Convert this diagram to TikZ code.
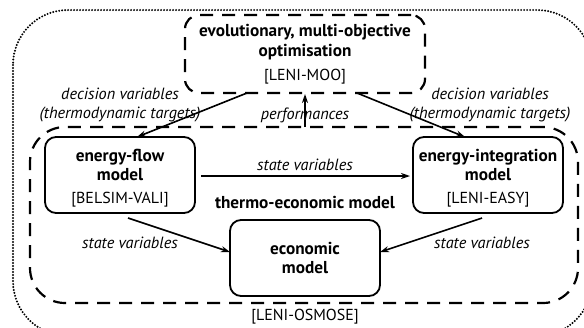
\documentclass[tikz,border=0pt]{standalone}
\usepackage{fontspec}
\setmainfont{PT Sans}
\usetikzlibrary{arrows.meta}
\begin{document}
\begin{tikzpicture}[x=1bp,y=-1bp,
  model/.style={draw, line width=1.8bp, rounded corners=11bp, minimum width=150bp, minimum height=76bp, inner sep=0pt},
  title/.style={font=\fontsize{17.3}{19.5}\selectfont\bfseries, align=center, inner sep=0pt},
  tag/.style={font=\fontsize{16}{19}\selectfont, inner sep=0pt},
  lab/.style={font=\fontsize{16.3}{20}\selectfont\itshape, align=center, inner sep=0pt},
  conn/.style={line width=1.6bp, -{Stealth[length=9bp,width=6bp]}},
  dashbox/.style={draw, line width=2.2bp, dash pattern=on 13bp off 9bp},
]
\useasboundingbox (0,0) rectangle (584,327);
\begin{scope}
\clip (0,0) rectangle (584,327);
\draw[line width=2.2bp, line cap=round, dash pattern=on 0bp off 3bp, rounded corners=55bp] (13,10) rectangle (592,336);
\end{scope}
% MOO box
\node[dashbox, rounded corners=14bp, minimum width=240bp, minimum height=78bp] (moo) at (305,54) {};
\node[title] (mootitle) at (305,42) {evolutionary, multi-objective\\optimisation};
\node[tag] (mootag) at (305,77) {[LENI-MOO]};
% thermo-economic box
\node[dashbox, rounded corners=35bp, minimum width=548bp, minimum height=176bp] (thermo) at (304,215) {};
\node[title] (thermotitle) at (305,202) {thermo-economic model};
\node[tag] (osmose) at (305,317) {[LENI-OSMOSE]};
% models
\node[model] (ef) at (120,175) {};
\node[title] (eft) at (120,165) {energy-flow\\model};
\node[tag] (eftag) at (120,200) {[BELSIM-VALI]};
\node[model] (ei) at (488,175) {};
\node[title] (eit) at (488,165) {energy-integration\\model};
\node[tag] (eitag) at (488,200) {[LENI-EASY]};
\node[model, minimum height=76bp] (ec) at (305,258) {};
\node[title] (ect) at (305,258) {economic\\model};
% connector anchors
\coordinate (d1s) at (247,93);
\coordinate (d1e) at (137,137);
\coordinate (d2s) at (357,93);
\coordinate (d2e) at (465,137);
\coordinate (ps) at (305,127);
\coordinate (pe) at (305,94);
\coordinate (s1s) at (128,218);
\coordinate (s1e) at (230,252);
\coordinate (s2s) at (482,218);
\coordinate (s2e) at (380,252);
\coordinate (hs) at (201,176);
\coordinate (he) at (410,176);
\draw[conn] (d1s) -- (d1e);
\draw[conn] (d2s) -- (d2e);
\draw[conn] (ps) -- (pe);
\draw[conn] (hs) -- (he);
\draw[conn] (s1s) -- (s1e);
\draw[conn] (s2s) -- (s2e);
% labels
\node[lab] (l1) at (120,105) {decision variables\\(thermodynamic targets)};
\node[lab] (l2) at (490,105) {decision variables\\(thermodynamic targets)};
\node[lab] (l3) at (305,115) {performances};
\node[lab] (l4) at (305,165) {state variables};
\node[lab] (l5) at (130,243) {state variables};
\node[lab] (l6) at (482,243) {state variables};
\end{tikzpicture}
\end{document}
